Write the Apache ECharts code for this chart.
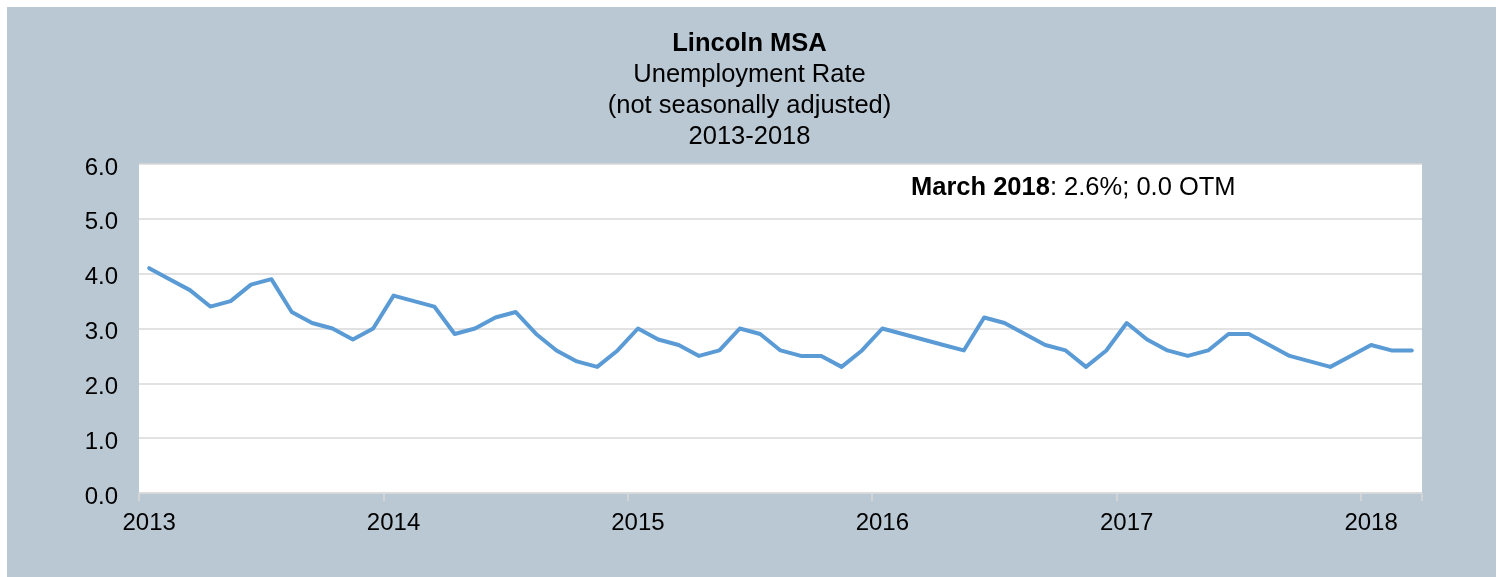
<!DOCTYPE html>
<html>
<head>
<meta charset="utf-8">
<script src="https://cdn.jsdelivr.net/npm/echarts@6/dist/echarts.min.js"></script>
<style>
  html, body { margin: 0; padding: 0; background: #ffffff; }
  #chart { width: 1499px; height: 577px; }
</style>
</head>
<body>
<div id="chart"></div>
<script>
// ---- data ----
const titleLines = ['Lincoln MSA', 'Unemployment Rate', '(not seasonally adjusted)', '2013-2018'];
const years = ['2013', '2014', '2015', '2016', '2017', '2018'];
const monthsLastYear = 3; // data run through March 2018
const rate = [
  4.1, 3.9, 3.7, 3.4, 3.5, 3.8, 3.9, 3.3, 3.1, 3.0, 2.8, 3.0,   // 2013
  3.6, 3.5, 3.4, 2.9, 3.0, 3.2, 3.3, 2.9, 2.6, 2.4, 2.3, 2.6,   // 2014
  3.0, 2.8, 2.7, 2.5, 2.6, 3.0, 2.9, 2.6, 2.5, 2.5, 2.3, 2.6,   // 2015
  3.0, 2.9, 2.8, 2.7, 2.6, 3.2, 3.1, 2.9, 2.7, 2.6, 2.3, 2.6,   // 2016
  3.1, 2.8, 2.6, 2.5, 2.6, 2.9, 2.9, 2.7, 2.5, 2.4, 2.3, 2.5,   // 2017
  2.7, 2.6, 2.6                                                 // 2018
];
const noteBold = 'March 2018';
const noteRest = ': 2.6%; 0.0 OTM';

// categories: one per month, label shown at each January
const categories = [];
years.forEach(function (y, yi) {
  const n = (yi === years.length - 1) ? monthsLastYear : 12;
  for (let m = 1; m <= n; m++) categories.push(y + '-' + (m < 10 ? '0' + m : m));
});

const FONT = '"Liberation Sans", Arial, sans-serif';
const chart = echarts.init(document.getElementById('chart'), null, { renderer: 'canvas' });

chart.setOption({
  backgroundColor: '#ffffff',
  animation: false,
  graphic: [
    {
      type: 'rect', z: -10, silent: true,
      shape: { x: 7, y: 7, width: 1489, height: 570 },
      style: { fill: '#bac8d4' }
    },
    {
      type: 'text', left: 911, top: 175, z: 10,
      style: {
        text: '{b|' + noteBold + '}{r|' + noteRest + '}',
        rich: {
          b: { fontFamily: FONT, fontSize: 25.5, fontWeight: 'bold', fill: '#000000' },
          r: { fontFamily: FONT, fontSize: 25.5, fontWeight: 'normal', fill: '#000000' }
        }
      }
    }
  ],
  title: {
    left: 'center', top: 28, padding: 0,
    text: '{b|' + titleLines[0] + '}\n{n|' + titleLines[1] + '}\n{n|' + titleLines[2] + '}\n{n|' + titleLines[3] + '}',
    textStyle: {
      fontWeight: 'normal',
      rich: {
        b: { fontFamily: FONT, fontSize: 25.5, fontWeight: 'bold', color: '#000000', lineHeight: 31, align: 'center' },
        n: { fontFamily: FONT, fontSize: 25.5, fontWeight: 'normal', color: '#000000', lineHeight: 31, align: 'center' }
      }
    }
  },
  grid: { left: 139, right: 77, top: 164, bottom: 84, backgroundColor: '#ffffff', show: true, borderWidth: 0 },
  xAxis: {
    type: 'category',
    data: categories,
    boundaryGap: true,
    axisLine: { lineStyle: { color: '#d9d9d9', width: 1.5 } },
    axisTick: { show: true, interval: 11, length: 8, lineStyle: { color: '#d9d9d9', width: 1.5 } },
    axisLabel: {
      interval: 11, margin: 18,
      fontFamily: FONT, fontSize: 24, color: '#000000',
      formatter: function (v) { return v.slice(0, 4); }
    },
    splitLine: { show: false }
  },
  yAxis: {
    type: 'value', min: 0, max: 6, interval: 1,
    axisLine: { show: false },
    axisTick: { show: false },
    axisLabel: {
      margin: 21, color: '#000000',
      formatter: function (v) { return '{a|' + v.toFixed(1) + '}'; },
      rich: {
        a: { fontFamily: FONT, fontSize: 24, color: '#000000', padding: [8, 0, 0, 0] }
      }
    },
    splitLine: { lineStyle: { color: '#d9d9d9', width: 1.5 } }
  },
  series: [{
    type: 'line',
    data: rate,
    symbol: 'none',
    lineStyle: { color: '#5b9bd5', width: 4, cap: 'round', join: 'round' },
    itemStyle: { color: '#5b9bd5' }
  }]
});
</script>
</body>
</html>
